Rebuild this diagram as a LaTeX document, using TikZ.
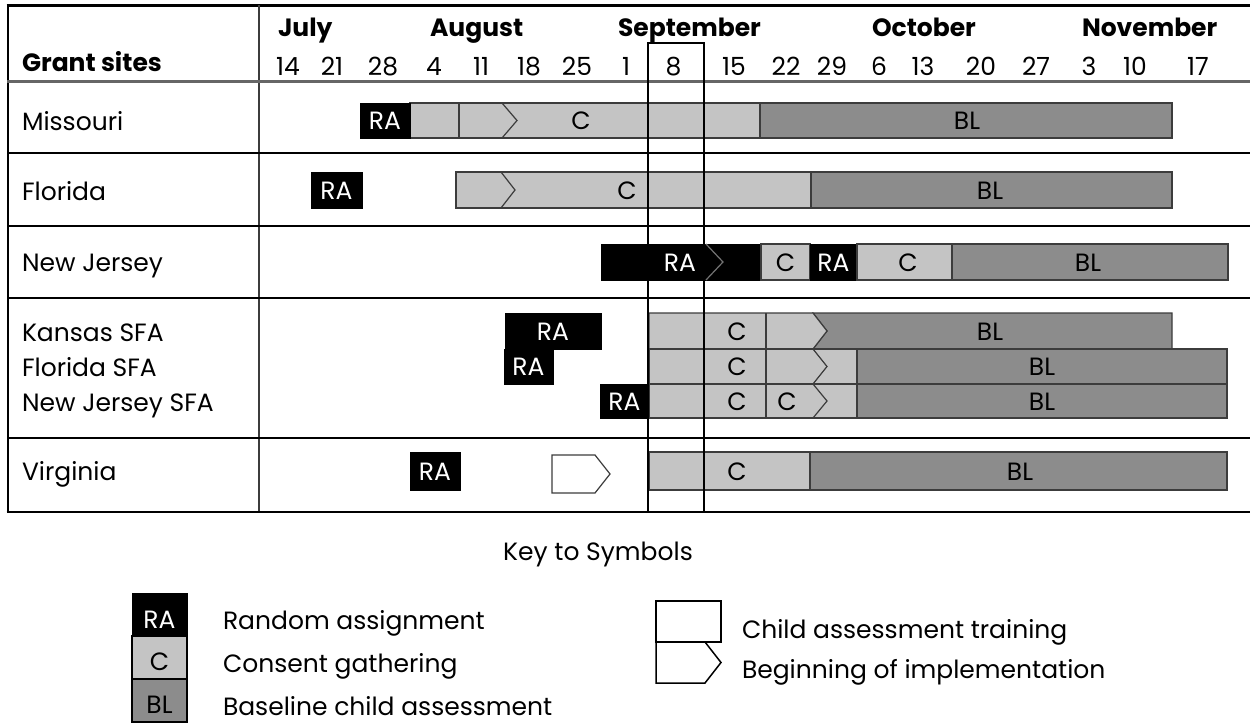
\documentclass[tikz,border=0pt]{standalone}
\usepackage{fontspec}
\setmainfont{Poppins}
\definecolor{cLight}{HTML}{C4C4C4}
\definecolor{cDark}{HTML}{8C8C8C}
\definecolor{cEdge}{HTML}{3C3C3C}
\begin{document}
\begin{tikzpicture}[x=1pt,y=-1pt,
  txt/.style={font=\fontsize{25}{30}\selectfont, inner sep=0pt, outer sep=0pt},
  bold/.style={txt, font=\fontsize{25}{30}\selectfont\bfseries},
  wtxt/.style={txt, text=white},
  rabar/.style={fill=black, draw=black, line width=1pt},
  cbar/.style={fill=cLight, draw=cEdge, line width=1.2pt},
  blbar/.style={fill=cDark, draw=cEdge, line width=1.2pt},
  chev/.style={draw=cEdge, line width=1.2pt},
  sep/.style={draw=black, line width=2pt},
]
\useasboundingbox (0,0) rectangle (1250,723);
\fill[white] (0,0) rectangle (1250,723);

% ---------- frame ----------
\draw[line width=3pt] (6.5,5) -- (1250,5);
\draw[line width=2pt] (7.5,4) -- (7.5,512.5);
\draw[line width=2pt, cEdge] (259,5) -- (259,512);
\draw[line width=3.2pt, black!60] (7,81.5) -- (1250,81.5);
\foreach \yy in {152.5,226,297.5,438} { \draw[sep] (7,\yy) -- (1250,\yy); }
\draw[sep] (6.5,511.5) -- (1250,511.5);

% ---------- header ----------
\node[bold, anchor=base west] (hGrant) at (22,71.5) {Grant sites};
\node[bold, anchor=base west] (mJul) at (278,36.5) {July};
\node[bold, anchor=base west] (mAug) at (430,36.5) {August};
\node[bold, anchor=base west] (mSep) at (618,36.5) {September};
\node[bold, anchor=base west] (mOct) at (872,36.5) {October};
\node[bold, anchor=base west] (mNov) at (1082,36.5) {November};
\foreach \xx/\dd [count=\i] in {288/14,332/21,383/28,434/4,481/11,529/18,577/25,626/1,673.5/8,734/15,786/22,832/29,879/6,923/13,981/20,1036/27,1089/3,1135/10,1198/17}
  { \node[txt, anchor=base] (d\i) at (\xx,75) {\dd}; }

% ---------- site names ----------
\node[txt, anchor=base west] (sMO) at (22,130) {Missouri};
\node[txt, anchor=base west] (sFL) at (22,200) {Florida};
\node[txt, anchor=base west] (sNJ) at (22,271.5) {New Jersey};
\node[txt, anchor=base west] (sKS) at (22,341.5) {Kansas SFA};
\node[txt, anchor=base west] (sFS) at (22,376) {Florida SFA};
\node[txt, anchor=base west] (sNS) at (22,411) {New Jersey SFA};
\node[txt, anchor=base west] (sVA) at (22,480) {Virginia};

% ---------- Missouri ----------
\draw[cbar] (410,103) rectangle (760,138);
\draw[blbar] (760,103) rectangle (1172,138);
\draw[rabar] (360,103) rectangle (410,138);
\draw[chev] (459,103) -- (459,138);
\draw[chev] (502,103) -- (517,120.5) -- (502,138);
\node[wtxt, anchor=base] (moRA) at (385,129.5) {RA};
\node[txt, anchor=base] (moC) at (581,129.5) {C};
\node[txt, anchor=base] (moBL) at (967,129.5) {BL};

% ---------- Florida ----------
\draw[rabar] (311,172) rectangle (362,208);
\draw[cbar] (456,172) rectangle (811,208);
\draw[blbar] (811,172) rectangle (1172,208);
\draw[chev] (501,172) -- (515,190) -- (501,208);
\node[wtxt, anchor=base] (flRA) at (336.5,199) {RA};
\node[txt, anchor=base] (flC) at (627,199) {C};
\node[txt, anchor=base] (flBL) at (990,199) {BL};

% ---------- New Jersey ----------
\draw[rabar] (601,244) rectangle (761,280);
\draw[cbar] (761,244) rectangle (810,280);
\draw[rabar] (810,244) rectangle (857,280);
\draw[cbar] (857,244) rectangle (952,280);
\draw[blbar] (952,244) rectangle (1228,280);
\draw[draw=black!55, line width=1.2pt] (706,244) -- (723,262) -- (706,280);
\node[wtxt, anchor=base] (njRA) at (680,271) {RA};
\node[txt, anchor=base] (njC1) at (785.5,271) {C};
\node[wtxt, anchor=base] (njRA2) at (833.5,271) {RA};
\node[txt, anchor=base] (njC2) at (908,271) {C};
\node[txt, anchor=base] (njBL) at (1088,271) {BL};

% ---------- Kansas SFA ----------
\draw[rabar] (505,313) rectangle (601,349);
\draw[blbar] (813,313) -- (1172,313) -- (1172,349) -- (813,349) -- (827,331) -- cycle;
\draw[cbar] (649,313) -- (813,313) -- (827,331) -- (813,349) -- (649,349) -- cycle;
\draw[chev] (766,313) -- (766,349);
\node[wtxt, anchor=base] (ksRA) at (553,340) {RA};
\node[txt, anchor=base] (ksC) at (737,340) {C};
\node[txt, anchor=base] (ksBL) at (990,340) {BL};

% ---------- Florida SFA ----------
\draw[rabar] (504,349) rectangle (553,384);
\draw[cbar] (649,349) rectangle (857,384);
\draw[blbar] (857,349) rectangle (1227,384);
\draw[chev] (766,349) -- (766,384);
\draw[chev] (813,349) -- (827,366.5) -- (813,384);
\node[wtxt, anchor=base] (fsRA) at (528.5,375.5) {RA};
\node[txt, anchor=base] (fsC) at (737,375.5) {C};
\node[txt, anchor=base] (fsBL) at (1042,375.5) {BL};

% ---------- New Jersey SFA ----------
\draw[rabar] (600,384) rectangle (649,418);
\draw[cbar] (649,384) rectangle (857,418);
\draw[blbar] (857,384) rectangle (1227,418);
\draw[chev] (766,384) -- (766,418);
\draw[chev] (813,384) -- (827,401) -- (813,418);
\node[wtxt, anchor=base] (nsRA) at (624.5,410) {RA};
\node[txt, anchor=base] (nsC1) at (737,410) {C};
\node[txt, anchor=base] (nsC2) at (787,410) {C};
\node[txt, anchor=base] (nsBL) at (1042,410) {BL};

% ---------- Virginia ----------
\draw[rabar] (410,452) rectangle (460,490);
\draw[chev, fill=white] (552,455) -- (595,455) -- (610,474) -- (595,493) -- (552,493) -- cycle;
\draw[cbar] (649,452) rectangle (810,490);
\draw[blbar] (810,452) rectangle (1227,490);
\node[wtxt, anchor=base] (vaRA) at (435,480) {RA};
\node[txt, anchor=base] (vaC) at (737,480) {C};
\node[txt, anchor=base] (vaBL) at (1020,480) {BL};

% ---------- training week box ----------
\draw[line width=2pt] (648,511.5) -- (648,43) -- (704,43) -- (704,511.5);

% ---------- key ----------
\node[txt, anchor=base] (key) at (598,560) {Key to Symbols};
\draw[rabar] (132,593) rectangle (187,636);
\draw[cbar, draw=black] (132,636) rectangle (187,679);
\draw[blbar, draw=black] (132,679) rectangle (187,722);
\node[wtxt, anchor=base] (kRA) at (159.5,628) {RA};
\node[txt, anchor=base] (kC) at (159.5,670) {C};
\node[txt, anchor=base] (kBL) at (159.5,713) {BL};
\node[txt, anchor=base west] (kRAt) at (223,629) {Random assignment};
\node[txt, anchor=base west] (kCt) at (223,672) {Consent gathering};
\node[txt, anchor=base west] (kBLt) at (223,715) {Baseline child assessment};
\draw[draw=black, line width=1.5pt, fill=white] (656,601) rectangle (721,642);
\draw[draw=black, line width=1.5pt, fill=white] (656,642) -- (705,642) -- (721,662.5) -- (705,683) -- (656,683) -- cycle;
\node[txt, anchor=base west] (kTr) at (742,638) {Child assessment training};
\node[txt, anchor=base west] (kIm) at (742,678) {Beginning of implementation};
\end{tikzpicture}
\end{document}
